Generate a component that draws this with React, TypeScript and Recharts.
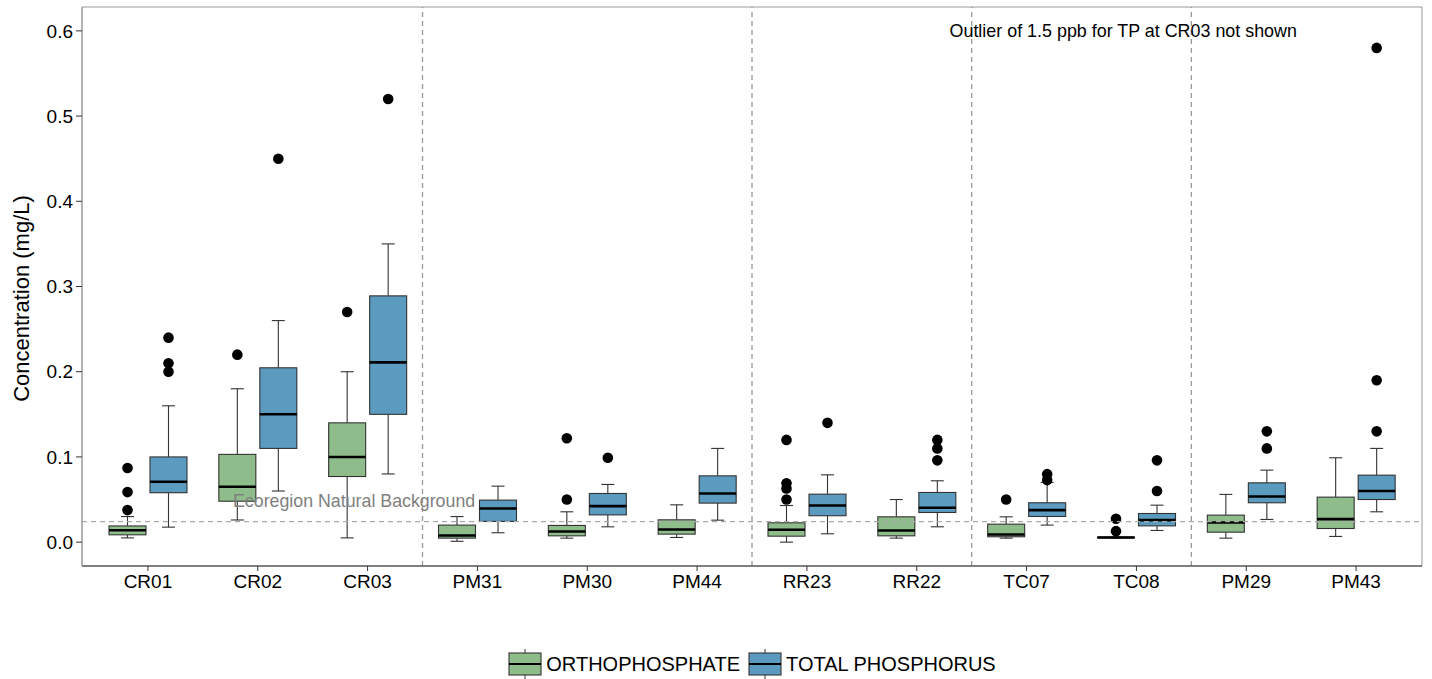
import React from 'react';
import {
  ComposedChart,
  Bar,
  XAxis,
  YAxis,
  ReferenceLine,
  ReferenceArea,
  ReferenceDot,
  Legend,
} from 'recharts';

const FONT = '"Liberation Sans", Arial, Helvetica, sans-serif';

const SITES = ['CR01', 'CR02', 'CR03', 'PM31', 'PM30', 'PM44', 'RR23', 'RR22', 'TC07', 'TC08', 'PM29', 'PM43'];

// Five-number summaries: [lower whisker, Q1, median, Q3, upper whisker]
const ORTHO_BOX = [
  [0.005, 0.0086, 0.014, 0.019, 0.03],
  [0.026, 0.048, 0.065, 0.103, 0.18],
  [0.005, 0.077, 0.1, 0.14, 0.2],
  [0.001, 0.0047, 0.0078, 0.02, 0.03],
  [0.0047, 0.0074, 0.0125, 0.0196, 0.0356],
  [0.0055, 0.0094, 0.0149, 0.0262, 0.0438],
  [0.0, 0.007, 0.0145, 0.0227, 0.043],
  [0.0047, 0.0074, 0.0137, 0.0297, 0.05],
  [0.0047, 0.0063, 0.009, 0.0211, 0.0297],
  [0.005, 0.005, 0.0055, 0.006, 0.006],
  [0.0047, 0.0117, 0.0231, 0.0317, 0.056],
  [0.0067, 0.016, 0.027, 0.0528, 0.099],
];
const ORTHO_OUT = [
  [0.0376, 0.0587, 0.087],
  [0.22],
  [0.27],
  [],
  [0.05, 0.122],
  [],
  [0.05, 0.063, 0.069, 0.12],
  [],
  [0.05],
  [0.0129, 0.0274],
  [],
  [],
];

const TP_BOX = [
  [0.0176, 0.058, 0.0708, 0.1, 0.16],
  [0.06, 0.11, 0.15, 0.2046, 0.26],
  [0.08, 0.15, 0.211, 0.289, 0.35],
  [0.011, 0.0243, 0.0395, 0.0493, 0.0657],
  [0.018, 0.032, 0.0423, 0.0571, 0.0677],
  [0.0258, 0.0458, 0.0571, 0.0778, 0.11],
  [0.0098, 0.031, 0.043, 0.0563, 0.079],
  [0.018, 0.0348, 0.0403, 0.0583, 0.072],
  [0.02, 0.0301, 0.0376, 0.0462, 0.07],
  [0.0137, 0.0191, 0.0258, 0.0336, 0.0434],
  [0.0266, 0.0462, 0.0536, 0.0696, 0.0845],
  [0.0356, 0.05, 0.06, 0.0786, 0.11],
];
const TP_OUT = [
  [0.2, 0.21, 0.24],
  [0.45],
  [0.52],
  [],
  [0.099],
  [],
  [0.14],
  [0.096, 0.11, 0.12],
  [0.0728, 0.0798],
  [0.06, 0.096],
  [0.11, 0.13],
  [0.13, 0.19, 0.58],
];

const Y_TICKS = [0, 0.1, 0.2, 0.3, 0.4, 0.5, 0.6];
const ECOREGION_BACKGROUND = 0.024;
// First site of each new group; a dashed divider is drawn at its left edge
const GROUP_STARTS = ['PM31', 'RR23', 'TC07', 'PM29'];

const ORTHO_FILL = '#8fbc8b';
const TP_FILL = '#5a9bbf';

const span = (box: number[], out: number[]) => [
  Math.min(box[0], ...out),
  Math.max(box[4], ...out),
];

const rows = SITES.map((site, i) => ({
  site,
  idx: i,
  orthoBox: ORTHO_BOX[i],
  orthoOut: ORTHO_OUT[i],
  orthoSpan: span(ORTHO_BOX[i], ORTHO_OUT[i]),
  tpBox: TP_BOX[i],
  tpOut: TP_OUT[i],
  tpSpan: span(TP_BOX[i], TP_OUT[i]),
}));

// Each bar spans the full range of a series (whiskers + outliers); the
// shape places the box parts along that span.
const makeBoxShape = (key: string, fill: string) => (props: any) => {
  const { x, y, width, height, payload } = props;
  const [lo, hi] = payload[key + 'Span'];
  const top = Math.min(y, y + height);
  const bot = Math.max(y, y + height);
  const px = (v: number) => bot - ((v - lo) / (hi - lo)) * (bot - top);
  const [mn, q1, md, q3, mx] = payload[key + 'Box'];
  const outs: number[] = payload[key + 'Out'];
  const cx = x + width / 2;
  const cap = 6.5;
  return (
    <g>
      <line x1={cx} x2={cx} y1={px(mx)} y2={px(q3)} stroke="#333" strokeWidth={1.1} />
      <line x1={cx} x2={cx} y1={px(q1)} y2={px(mn)} stroke="#333" strokeWidth={1.1} />
      <line x1={cx - cap} x2={cx + cap} y1={px(mx)} y2={px(mx)} stroke="#333" strokeWidth={1.1} />
      <line x1={cx - cap} x2={cx + cap} y1={px(mn)} y2={px(mn)} stroke="#333" strokeWidth={1.1} />
      <rect
        x={x}
        y={px(q3)}
        width={width}
        height={Math.max(px(q1) - px(q3), 0)}
        fill={fill}
        stroke="#333"
        strokeWidth={1.1}
      />
      <line x1={x} x2={x + width} y1={px(md)} y2={px(md)} stroke="#000" strokeWidth={2.6} />
      {outs.map((v, j) => (
        <circle key={j} cx={cx} cy={px(v)} r={5.3} fill="#000" />
      ))}
    </g>
  );
};

const LegendKey = ({ fill }: { fill: string }) => (
  <svg width={34} height={30} style={{ display: 'block' }}>
    <line x1={17} x2={17} y1={0} y2={30} stroke="#333" strokeWidth={1} />
    <rect x={1} y={4} width={32} height={22} fill={fill} stroke="#333" strokeWidth={1.1} />
    <line x1={1} x2={33} y1={15} y2={15} stroke="#000" strokeWidth={2} />
  </svg>
);

const LegendContent = () => (
  <div
    style={{
      display: 'flex',
      justifyContent: 'center',
      alignItems: 'center',
      height: 30,
      marginLeft: 82,
      marginRight: 10,
      fontFamily: FONT,
      fontSize: 20,
      color: '#000',
    }}
  >
    <LegendKey fill={ORTHO_FILL} />
    <span style={{ marginLeft: 4, marginRight: 8 }}>ORTHOPHOSPHATE</span>
    <LegendKey fill={TP_FILL} />
    <span style={{ marginLeft: 4 }}>TOTAL PHOSPHORUS</span>
  </div>
);

const YLabel = (props: any) => {
  const vb = props.viewBox || { x: 0, y: 7, width: 82, height: 559 };
  const x = vb.x + 21;
  const y = vb.y + vb.height / 2 + 12;
  return (
    <text
      x={x}
      y={y}
      transform={`rotate(-90, ${x}, ${y})`}
      textAnchor="middle"
      dominantBaseline="central"
      fontFamily={FONT}
      fontSize={22}
      fill="#000"
    >
      Concentration (mg/L)
    </text>
  );
};

const EcoLabel = (props: any) => {
  const vb = props.viewBox || { x: 82, y: 521 };
  return (
    <text x={vb.x + 151} y={vb.y - 15} fontFamily={FONT} fontSize={17.8} fill="#808080">
      Ecoregion Natural Background
    </text>
  );
};

export default function App() {
  return (
    <div style={{ position: 'absolute', left: 0, top: 0, width: 1432, height: 679, background: '#fff' }}>
      <ComposedChart
        width={1432}
        height={679}
        data={rows}
        margin={{ top: 7, right: 10, bottom: 0, left: 0 }}
        barSize={37}
        barGap={4}
      >
        <XAxis
          dataKey="site"
          padding={{ left: 11, right: 11 }}
          height={83}
          axisLine={{ stroke: '#333' }}
          tickLine={{ stroke: '#333' }}
          tickSize={5}
          tickMargin={4}
          tick={{ fill: '#000', fontSize: 19, fontFamily: FONT }}
          interval={0}
        />
        <XAxis
          xAxisId="idx"
          dataKey="idx"
          type="number"
          domain={[-0.6, 11.6]}
          allowDataOverflow
          hide
        />
        <YAxis
          type="number"
          domain={[-0.028, 0.628]}
          ticks={Y_TICKS}
          allowDataOverflow
          width={82}
          axisLine={{ stroke: '#999' }}
          tickLine={{ stroke: '#333' }}
          tickSize={6}
          tickMargin={3}
          tickFormatter={(v: number) => v.toFixed(1)}
          tick={{ fill: '#000', fontSize: 19, fontFamily: FONT }}
          label={<YLabel />}
        />
        <ReferenceArea
          xAxisId="idx"
          x1={-0.6}
          x2={11.6}
          y1={-0.028}
          y2={0.628}
          fill="none"
          stroke="#999"
          strokeWidth={1}
          fillOpacity={0}
        />
        <ReferenceDot
          xAxisId="idx"
          x={8.88}
          y={0.6}
          r={0}
          fill="none"
          stroke="none"
          label={{ value: 'Outlier of 1.5 ppb for TP at CR03 not shown', position: 'center', fontSize: 17.9, fontFamily: FONT, fill: '#000' }}
        />
        {GROUP_STARTS.map((s) => (
          <ReferenceLine key={s} x={s} position="start" stroke="#999" strokeWidth={1.3} strokeDasharray="5 4" />
        ))}
        <ReferenceLine
          y={ECOREGION_BACKGROUND}
          stroke="#aaa"
          strokeWidth={1.3}
          strokeDasharray="5 4"
          label={<EcoLabel />}
        />
        <Bar dataKey="orthoSpan" name="ORTHOPHOSPHATE" fill={ORTHO_FILL} shape={makeBoxShape('ortho', ORTHO_FILL)} isAnimationActive={false} />
        <Bar dataKey="tpSpan" name="TOTAL PHOSPHORUS" fill={TP_FILL} shape={makeBoxShape('tp', TP_FILL)} isAnimationActive={false} />
        <Legend verticalAlign="bottom" height={30} wrapperStyle={{ left: 0, width: 1432 }} content={<LegendContent />} />
      </ComposedChart>
    </div>
  );
}
